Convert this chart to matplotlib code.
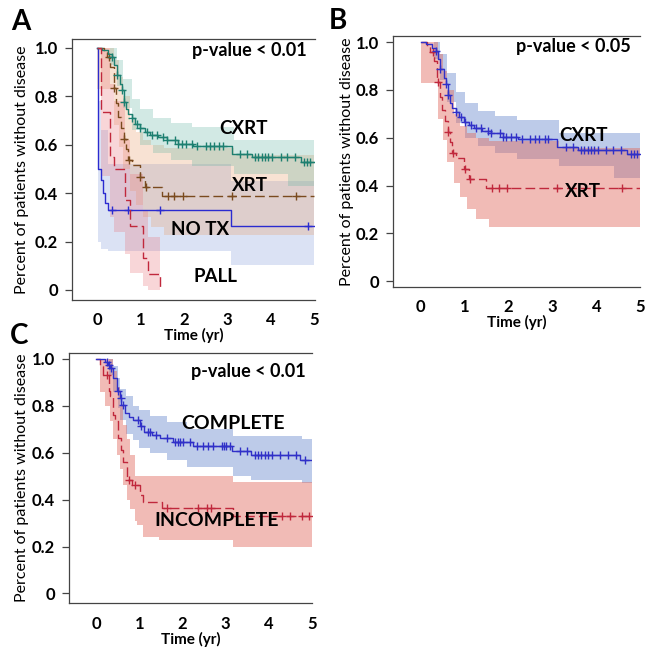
import numpy as np
import matplotlib
matplotlib.use("Agg")
import matplotlib.pyplot as plt

plt.rcParams["font.family"] = ["Lato", "DejaVu Sans"]

# ---- shared groups (CXRT / XRT appear in panels A and B) ----
cxrt_t = [0, 0.11, 0.25, 0.34, 0.40, 0.45, 0.52, 0.57, 0.61, 0.66, 0.72, 0.80, 0.88,
          0.99, 1.10, 1.22, 1.40, 1.61, 1.87, 2.22, 3.10, 3.58, 4.70, 5.0]
cxrt_s = [1.0, 0.99, 0.975, 0.963, 0.93, 0.887, 0.85, 0.825, 0.777, 0.745, 0.725, 0.708,
          0.685, 0.667, 0.652, 0.64, 0.63, 0.619, 0.603, 0.594, 0.562, 0.547, 0.53, 0.53]
cxrt_cens = [0.34, 0.45, 0.57, 0.61, 0.80, 0.92, 1.0, 1.15, 1.27, 1.38, 1.53, 1.61, 1.80,
             1.87, 1.95, 2.06, 2.18, 2.30, 2.50, 2.60, 2.70, 2.82, 2.90, 3.30, 3.46, 3.65,
             3.72, 3.80, 3.88, 3.95, 4.03, 4.23, 4.38, 4.57, 4.78, 4.85, 4.92]
cxrt_band_t = [0, 0.30, 0.45, 0.60, 0.80, 1.00, 1.30, 1.70, 2.20, 3.15, 4.40, 5.0]
cxrt_hi = [1.0, 1.0, 0.95, 0.87, 0.79, 0.745, 0.71, 0.69, 0.672, 0.62, 0.62, 0.62]
cxrt_lo = [1.0, 0.93, 0.84, 0.75, 0.66, 0.60, 0.565, 0.535, 0.51, 0.48, 0.43, 0.43]

xrt_t = [0, 0.15, 0.22, 0.30, 0.38, 0.44, 0.49, 0.55, 0.61, 0.66, 0.72, 0.80, 0.99, 1.11,
         1.49, 5.0]
xrt_s = [1.0, 0.983, 0.96, 0.92, 0.832, 0.77, 0.715, 0.67, 0.622, 0.58, 0.537, 0.516,
         0.468, 0.426, 0.388, 0.388]
xrt_cens = [0.28, 0.40, 0.63, 0.74, 1.0, 1.12, 1.63, 1.78, 1.97, 3.10, 4.58]
xrt_band_t = [0, 0.25, 0.40, 0.50, 0.60, 0.75, 0.90, 1.05, 1.25, 1.55, 3.15, 5.0]
xrt_hi = [1.0, 1.0, 0.95, 0.88, 0.80, 0.70, 0.65, 0.62, 0.60, 0.585, 0.555, 0.555]
xrt_lo = [0.83, 0.83, 0.68, 0.59, 0.50, 0.41, 0.35, 0.30, 0.26, 0.225, 0.225, 0.225]

# ---- panel A only ----
notx_t = [0, 0.01, 0.03, 0.10, 0.14, 0.18, 0.25, 3.08, 5.0]
notx_s = [1.0, 0.75, 0.50, 0.454, 0.40, 0.36, 0.33, 0.264, 0.264]
notx_cens = [0.34, 0.72, 1.45, 4.86]
notx_band_t = [0, 0.02, 0.10, 0.25, 3.08, 5.0]
notx_hi = [1.0, 0.78, 0.66, 0.52, 0.45, 0.45]
notx_lo = [1.0, 0.20, 0.17, 0.16, 0.105, 0.105]

pall_t = [0, 0.08, 0.30, 0.40, 0.65, 0.76, 1.07, 1.17, 1.45]
pall_s = [1.0, 0.736, 0.55, 0.50, 0.37, 0.265, 0.13, 0.065, 0.0]
pall_band_t = [0, 0.08, 0.30, 0.40, 0.65, 0.76, 1.07, 1.17, 1.45]
pall_hi = [1.0, 1.0, 0.85, 0.78, 0.62, 0.48, 0.33, 0.22, 0.22]
pall_lo = [1.0, 0.47, 0.30, 0.24, 0.15, 0.07, 0.015, 0.0, 0.0]

# ---- panel C ----
comp_t = [0, 0.21, 0.28, 0.32, 0.40, 0.48, 0.56, 0.59, 0.67, 0.76, 0.86, 1.02, 1.12, 1.29,
          1.48, 1.79, 2.25, 3.14, 3.60, 4.72, 5.0]
comp_s = [1.0, 0.985, 0.975, 0.962, 0.919, 0.862, 0.833, 0.805, 0.769, 0.752, 0.74, 0.712,
          0.69, 0.676, 0.664, 0.645, 0.627, 0.608, 0.591, 0.57, 0.57]
comp_cens = [0.25, 0.29, 0.34, 0.50, 0.57, 0.62, 0.98, 1.04, 1.21, 1.26, 1.40, 1.64, 1.83,
             1.89, 1.95, 2.02, 2.18, 2.33, 2.48, 2.60, 2.72, 2.91, 2.96, 3.02, 3.10, 3.33,
             3.49, 3.68, 3.75, 3.83, 3.91, 3.99, 4.07, 4.26, 4.45, 4.64, 4.84]
comp_band_t = [0, 0.21, 0.30, 0.40, 0.50, 0.56, 0.70, 0.86, 1.0, 1.25, 1.64, 2.10, 3.17,
               3.60, 4.76, 5.0]
comp_hi = [1.0, 1.0, 1.0, 0.97, 0.92, 0.87, 0.84, 0.80, 0.78, 0.755, 0.73, 0.70, 0.67, 0.67,
           0.66, 0.66]
comp_lo = [1.0, 1.0, 0.93, 0.86, 0.79, 0.74, 0.68, 0.655, 0.62, 0.60, 0.57, 0.54, 0.50,
           0.484, 0.47, 0.47]

incomp_t = [0, 0.09, 0.17, 0.29, 0.33, 0.40, 0.44, 0.52, 0.59, 0.63, 0.71, 0.83, 1.02, 1.09,
            1.52, 3.17, 5.0]
incomp_s = [1.0, 0.968, 0.933, 0.862, 0.84, 0.762, 0.733, 0.662, 0.612, 0.562, 0.484, 0.463,
            0.42, 0.39, 0.363, 0.33, 0.33]
incomp_cens = [0.25, 0.76, 0.90, 1.64, 2.36, 2.56, 2.67, 4.30, 4.50, 4.77, 4.93]
incomp_band_t = [0, 0.09, 0.20, 0.32, 0.40, 0.48, 0.56, 0.63, 0.71, 0.79, 0.90, 0.94, 1.09,
                 1.46, 3.17, 5.0]
incomp_hi = [1.0, 1.0, 1.0, 1.0, 0.95, 0.88, 0.80, 0.72, 0.66, 0.59, 0.50, 0.50, 0.50, 0.50,
             0.477, 0.477]
incomp_lo = [1.0, 0.86, 0.80, 0.733, 0.66, 0.59, 0.53, 0.463, 0.40, 0.36, 0.31, 0.29, 0.242,
             0.228, 0.20, 0.20]

y_ticks = [0, 0.2, 0.4, 0.6, 0.8, 1.0]
y_labels = ["0", "0.2", "0.4", "0.6", "0.8", "1.0"]
x_ticks = [0, 1, 2, 3, 4, 5]

DASH = (0, (7, 3))


def draw_band(ax, t, lo, hi, color, alpha):
    ax.fill_between(t, lo, hi, step="post", color=color, alpha=alpha, linewidth=0)


def draw_curve(ax, t, s, color, cens=None, dashed=False):
    ax.step(t, s, where="post", color=color, linewidth=1.0,
            linestyle=DASH if dashed else "-")
    if cens is not None:
        t_arr = np.asarray(t)
        s_arr = np.asarray(s)
        idx = np.searchsorted(t_arr, cens, side="right") - 1
        ax.plot(cens, s_arr[idx], linestyle="none", marker="+", markersize=6,
                markeredgewidth=1.0, color=color)


def note(ax, x, y, text, size=13.5):
    ax.text(x, y, text, ha="center", va="center", fontsize=size, fontweight="bold")


def style_axes(ax, xlim, ylim, label_x):
    ax.set_xlim(*xlim)
    ax.set_ylim(*ylim)
    for side in ["left", "top", "bottom"]:
        ax.spines[side].set_color("#444444")
        ax.spines[side].set_linewidth(0.9)
    ax.spines["right"].set_visible(False)
    ax.set_yticks(y_ticks, labels=y_labels)
    ax.set_xticks(x_ticks)
    ax.set_xticks([0, 2, 4], minor=True)
    ax.tick_params(axis="y", length=5, width=0.9, color="#444444", pad=5, labelsize=12)
    ax.tick_params(axis="x", which="major", length=0, pad=9, labelsize=12)
    ax.tick_params(axis="x", which="minor", length=5, width=0.9, color="#444444")
    for lab in ax.get_xticklabels() + ax.get_yticklabels():
        lab.set_fontweight("bold")
    ax.set_xlabel("Time (yr)", fontsize=11, fontweight="bold", labelpad=0)
    ax.set_ylabel("Percent of patients without disease", fontsize=11.5)
    ax.yaxis.set_label_coords(label_x, 0.5)


fig = plt.figure(figsize=(6.54, 6.52), dpi=100)

teal = "#1d7f70"
brown = "#7a4a1e"
blue = "#2b2bd0"
red = "#c0283c"

# ---- A ----
ax = fig.add_axes([0.110, 0.540, 0.372, 0.400])
draw_band(ax, notx_band_t, notx_lo, notx_hi, "#7f9ad8", 0.28)
draw_band(ax, xrt_band_t, xrt_lo, xrt_hi, "#e8a070", 0.30)
draw_band(ax, cxrt_band_t, cxrt_lo, cxrt_hi, "#5fb3a0", 0.28)
draw_band(ax, pall_band_t, pall_lo, pall_hi, "#e87a80", 0.30)
draw_curve(ax, notx_t, notx_s, blue, notx_cens)
draw_curve(ax, xrt_t, xrt_s, brown, xrt_cens, dashed=True)
draw_curve(ax, cxrt_t, cxrt_s, teal, cxrt_cens)
draw_curve(ax, pall_t, pall_s, red, dashed=True)
note(ax, 3.5, 0.99, "p-value < 0.01", 13)
note(ax, 3.37, 0.668, "CXRT")
note(ax, 3.53, 0.433, "XRT")
note(ax, 2.38, 0.248, "NO TX")
note(ax, 2.72, 0.055, "PALL")
style_axes(ax, (-0.58, 5.03), (-0.041, 1.035), -0.177)

# ---- B ----
ax = fig.add_axes([0.601, 0.560, 0.378, 0.385])
draw_band(ax, cxrt_band_t, cxrt_lo, cxrt_hi, "#5b7fc9", 0.40)
draw_band(ax, xrt_band_t, xrt_lo, xrt_hi, "#e06a5e", 0.45)
draw_curve(ax, xrt_t, xrt_s, red, xrt_cens, dashed=True)
draw_curve(ax, cxrt_t, cxrt_s, "#3030c8", cxrt_cens)
note(ax, 3.47, 0.98, "p-value < 0.05", 13)
note(ax, 3.7, 0.61, "CXRT")
note(ax, 3.7, 0.374, "XRT")
style_axes(ax, (-0.63, 5.0), (-0.024, 1.026), -0.158)

# ---- C ----
ax = fig.add_axes([0.1055, 0.075, 0.3715, 0.384])
draw_band(ax, comp_band_t, comp_lo, comp_hi, "#5b7fc9", 0.40)
draw_band(ax, incomp_band_t, incomp_lo, incomp_hi, "#e06a5e", 0.45)
draw_curve(ax, incomp_t, incomp_s, red, incomp_cens, dashed=True)
draw_curve(ax, comp_t, comp_s, "#3030c8", comp_cens)
note(ax, 3.52, 0.947, "p-value < 0.01", 13)
note(ax, 3.18, 0.726, "COMPLETE", 14)
note(ax, 2.79, 0.313, "INCOMPLETE", 14)
style_axes(ax, (-0.625, 5.0), (-0.041, 1.026), -0.165)

fig.text(0.032, 0.966, "A", ha="center", va="center", fontsize=20, fontweight="bold")
fig.text(0.517, 0.968, "B", ha="center", va="center", fontsize=20, fontweight="bold")
fig.text(0.030, 0.485, "C", ha="center", va="center", fontsize=20, fontweight="bold")

fig.savefig("out.png", dpi=100)
